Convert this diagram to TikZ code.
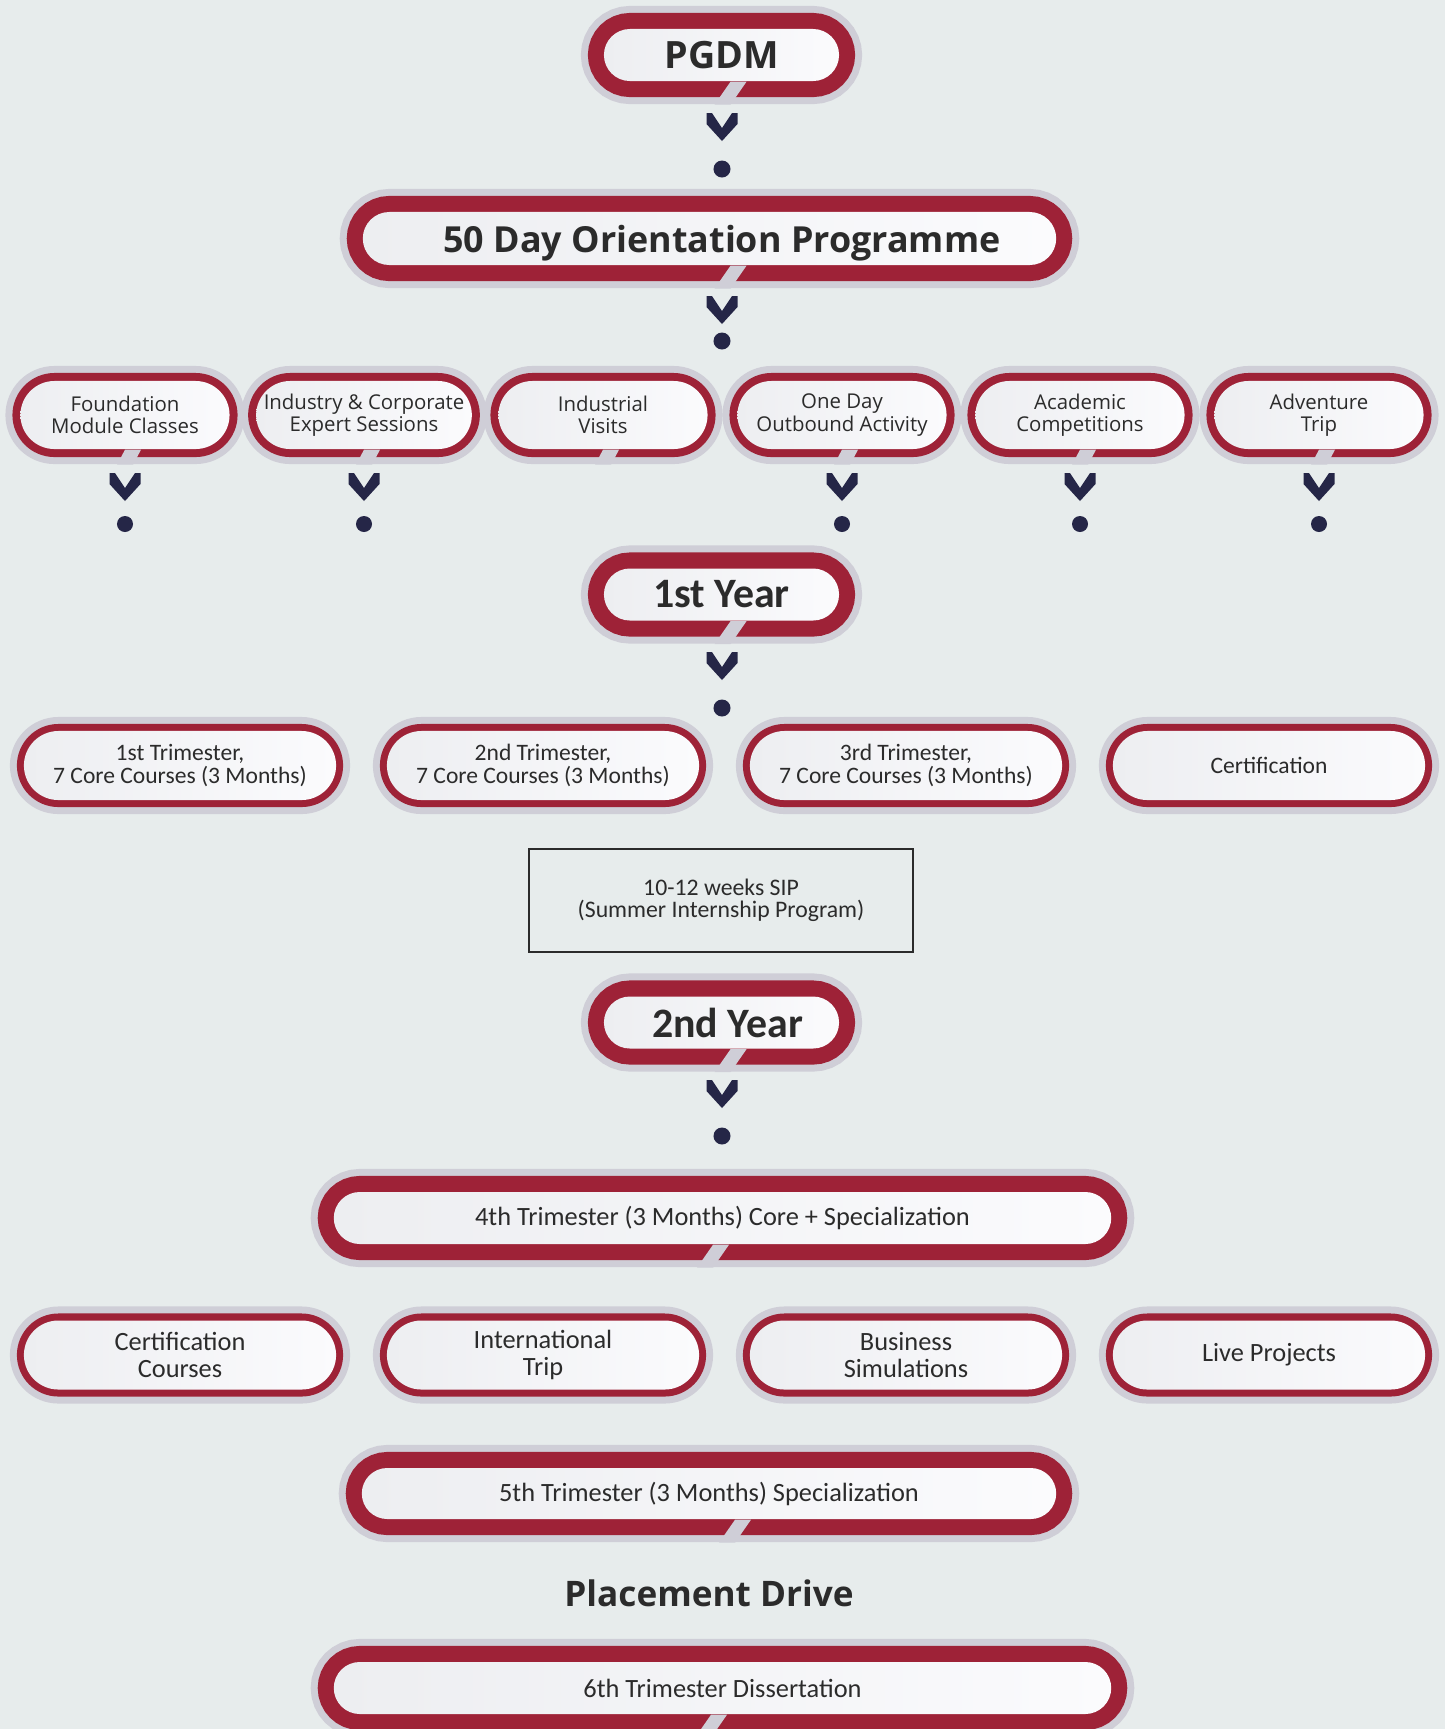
\documentclass[tikz,border=0pt]{standalone}
\usepackage{fontspec}
\setmainfont{Carlito}
\newfontfamily\osans{Open Sans}
\usetikzlibrary{shapes.misc,calc}

\definecolor{bgc}{HTML}{E7ECEC}
\definecolor{halo}{HTML}{CFCED7}
\definecolor{ring}{HTML}{9E2237}
\definecolor{navy}{HTML}{252647}
\definecolor{pillL}{HTML}{EDEEF1}
\definecolor{pillR}{HTML}{FBFBFD}
\definecolor{txt}{HTML}{2B2B2B}

\tikzset{
  pill/.style={rounded rectangle, inner sep=0pt, align=center, text=txt,
    left color=pillL, right color=pillR},
  bigpill/.style={pill, preaction={draw=halo, line width=0.46cm},
    preaction={draw=ring, line width=0.32cm}},
  smallpill/.style={pill, preaction={draw=halo, line width=0.30cm},
    preaction={draw=ring, line width=0.16cm}, minimum width=2.09cm,
    minimum height=0.68cm, font=\osans\fontsize{5.8}{6.4}\selectfont},
  tripill/.style={pill, preaction={draw=halo, line width=0.28cm},
    preaction={draw=ring, line width=0.14cm}, minimum width=3.12cm,
    minimum height=0.69cm},
  head/.style={font=\osans\bfseries\fontsize{10}{12}\selectfont, text=txt},
}

% chevron with its top centre at (#1,#2)
\newcommand{\chev}[2]{\fill[navy,shift={(#1,#2)}] (-15.5,0) -- (-10,0) -- (0,15) -- (10,0) -- (15.5,0) -- (15.5,11) -- (0,28) -- (-15.5,11) -- cycle;}
% slanted gap in the red ring of a pill
\newcommand{\notch}[2]{\fill[halo] ($(#1.south)+(#2,0)+(-8,0)$) -- ++(16,0) -- ++(-16,23) -- ++(-16,0) -- cycle;}
\newcommand{\snotch}[1]{\fill[halo] ($(#1.south)+(0,0)$) -- ++(16,0) -- ++(-8,15) -- ++(-16,0) -- cycle;}

\begin{document}
\begin{tikzpicture}[x=0.01cm,y=-0.01cm]
\useasboundingbox (0,0) rectangle (1445,1729);
\fill[bgc] (0,0) rectangle (1445,1729);

% top
\node[bigpill, minimum width=2.35cm, minimum height=0.52cm, font=\osans\bfseries\fontsize{10.7}{12}\selectfont] (pgdm) at (721.5,55) {PGDM};
\notch{pgdm}{17}
\chev{722}{113}
\fill[navy] (722,169) circle[radius=0.085cm];

\node[bigpill, minimum width=6.93cm, minimum height=0.53cm, text depth=0pt, font=\osans\bfseries\fontsize{10.2}{12}\selectfont] (orient) at (709.5,238.5) {\hspace*{0.25cm}50 Day Orientation Programme};
\notch{orient}{29}
\chev{722}{296}
\fill[navy] (722,341) circle[radius=0.085cm];

% orientation activities
\foreach \n/\x/\t in {found/125/{Foundation\\Module Classes},indus/364/{Industry \& Corporate\\Expert Sessions},visit/603/{Industrial\\Visits},outb/842/{One Day\\Outbound Activity},acad/1080/{Academic\\Competitions},adven/1319/{Adventure\\Trip}}{
  \node[smallpill] (\n) at (\x,415) {\t};
  \snotch{\n}
}
\foreach \x in {125,364,842,1080,1319}{
  \chev{\x}{473}
  \fill[navy] (\x,524) circle[radius=0.08cm];
}

% first year
\node[bigpill, minimum width=2.35cm, minimum height=0.52cm, font=\bfseries\fontsize{11.9}{14}\selectfont] (yr1) at (721.5,594.5) {1st Year};
\notch{yr1}{17}
\chev{722}{652}
\fill[navy] (722,708) circle[radius=0.085cm];

\foreach \n/\x/\t in {tri1/180/{1st Trimester,\\7 Core Courses (3 Months)},tri2/543/{2nd Trimester,\\7 Core Courses (3 Months)},tri3/906/{3rd Trimester,\\7 Core Courses (3 Months)},cert/1269/{Certification}}{
  \node[tripill, font=\fontsize{6.7}{6.6}\selectfont] (\n) at (\x,765.5) {\t};
}

\node[draw=txt, line width=0.02cm, minimum width=3.84cm, minimum height=1.03cm, align=center, text=txt, font=\fontsize{6.75}{6.3}\selectfont] (sip) at (721,900.5) {10-12 weeks SIP\\(Summer Internship Program)};

% second year
\node[bigpill, minimum width=2.35cm, minimum height=0.52cm, font=\bfseries\fontsize{11.9}{14}\selectfont] (yr2) at (721.5,1022.5) {\hspace*{0.12cm}2nd Year};
\notch{yr2}{17}
\chev{722}{1080}
\fill[navy] (722,1136) circle[radius=0.085cm];

\node[bigpill, minimum width=7.77cm, minimum height=0.52cm, font=\fontsize{7.5}{8}\selectfont] (tri4) at (722.5,1218) {4th Trimester (3 Months) Core + Specialization};
\notch{tri4}{-1.5}

\foreach \n/\x/\t in {certc/180/{Certification\\Courses},intl/543/{International\\Trip},bizsim/906/{Business\\Simulations},live/1269/{Live Projects}}{
  \node[tripill, font=\fontsize{7.5}{7.5}\selectfont] (\n) at (\x,1355) {\t};
}

\node[bigpill, minimum width=6.94cm, minimum height=0.51cm, font=\fontsize{7.5}{8}\selectfont] (tri5) at (709,1493.5) {5th Trimester (3 Months) Specialization};
\notch{tri5}{34}

\node[head, anchor=base] (place) at (709,1606) {Placement Drive};

\node[bigpill, minimum width=7.77cm, minimum height=0.52cm, font=\fontsize{7.5}{8}\selectfont] (tri6) at (722.5,1688) {6th Trimester Dissertation};
\notch{tri6}{-3.5}
\end{tikzpicture}
\end{document}
